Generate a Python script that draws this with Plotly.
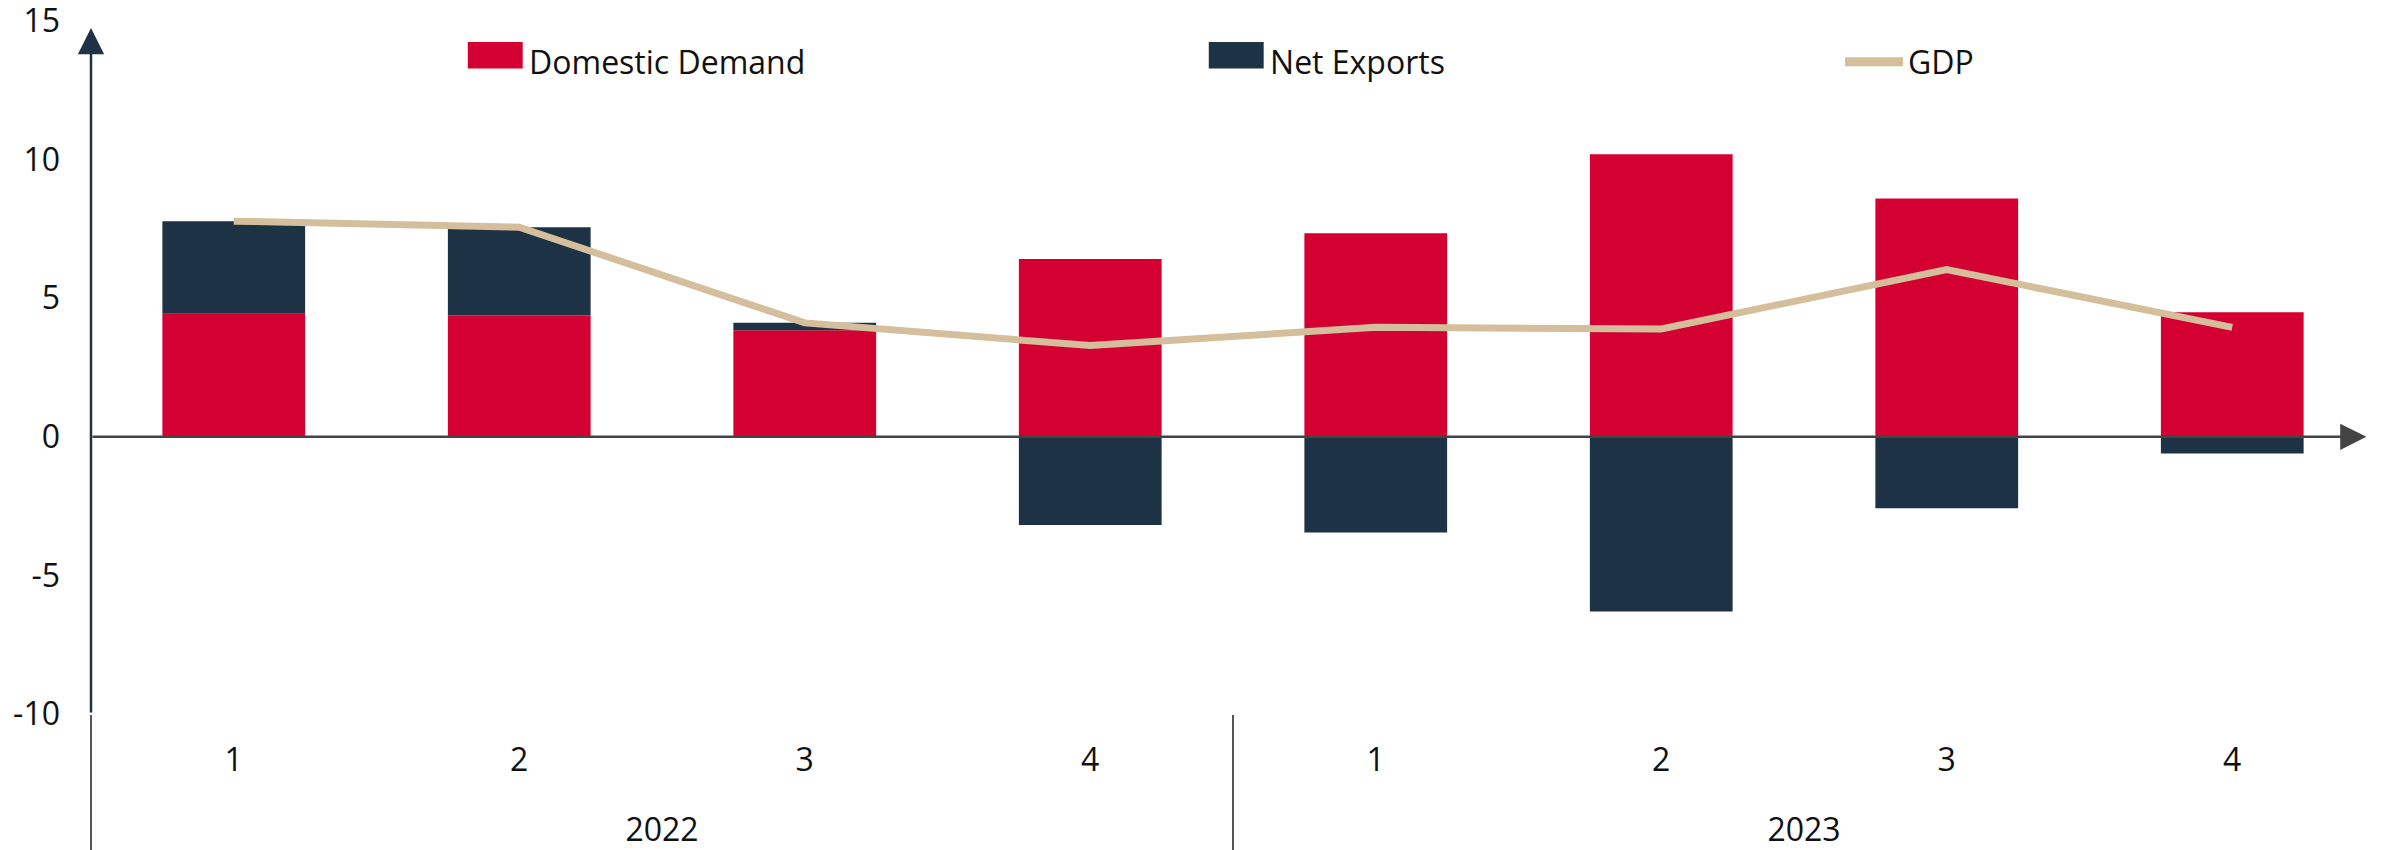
import plotly.graph_objects as go

years = ["2022", "2022", "2022", "2022", "2023", "2023", "2023", "2023"]
quarters = ["1", "2", "3", "4", "1", "2", "3", "4"]
domestic_demand = [4.44, 4.38, 3.84, 6.41, 7.34, 10.19, 8.60, 4.49]
net_exports = [3.34, 3.18, 0.27, -3.18, -3.45, -6.30, -2.58, -0.60]
gdp = [7.78, 7.56, 4.11, 3.29, 3.95, 3.89, 6.03, 3.95]
y_ticks = [-10, -5, 0, 5, 10, 15]
y_tick_text = ["-10", "-5", "0", "5", "10", "15"]

C_DD = "#D40032"
C_NX = "#1E3246"
C_GDP = "#D4BE9B"
FONT = "Open Sans"

# first-level labels get an empty second line so the year row sits lower
quarter_labels = [q + "<br><span style='font-size:54px'>\u00a0</span>" for q in quarters]
x = [years, quarter_labels]

fig = go.Figure()
fig.add_trace(go.Bar(x=x, y=domestic_demand, name="Domestic Demand",
                     marker=dict(color=C_DD, line=dict(width=0)), width=0.5,
                     showlegend=False))
fig.add_trace(go.Bar(x=x, y=net_exports, name="Net Exports",
                     marker=dict(color=C_NX, line=dict(width=0)), width=0.5,
                     showlegend=False))
fig.add_trace(go.Scatter(x=x, y=gdp, name="GDP", mode="lines",
                         line=dict(color=C_GDP, width=7),
                         showlegend=False))

def swatch_name(color, label):
    return ("<span style='color:%s;font-family:DejaVu Sans;font-size:72px'>\u25ac</span>"
            "%s" % (color, label))

HIDDEN = dict(color="rgba(0,0,0,0)", size=1, line=dict(width=0, color="rgba(0,0,0,0)"))

# legend entries
fig.add_trace(go.Scatter(x=[None], y=[None], name=swatch_name(C_DD, "Domestic Demand"),
                         mode="markers", marker=HIDDEN, legend="legend"))
fig.add_trace(go.Scatter(x=[None], y=[None], name=swatch_name(C_NX, "Net Exports"),
                         mode="markers", marker=HIDDEN, legend="legend2"))
fig.add_trace(go.Scatter(x=[None], y=[None], name="GDP", mode="lines",
                         line=dict(color=C_GDP, width=9), legend="legend3"))

# the page body adds an 8px offset; work in page pixels and subtract it
OFF = 8
W, H = 2382 - OFF, 850 - OFF
ml = 91 - OFF
mr = 7
mt = 21 - OFF
mb = H - (714 - OFF)
pw = W - ml - mr
ph = H - mt - mb

def px2paper_x(px):
    return (px - OFF - ml) / pw

def px2paper_y(py):
    return (H - mb - (py - OFF)) / ph

leg_common = dict(orientation="h", yanchor="middle", xanchor="left",
                  font=dict(family=FONT, size=32, color="#111"),
                  bgcolor="rgba(0,0,0,0)", borderwidth=0)

fig.update_layout(
    width=W, height=H,
    margin=dict(l=ml, r=mr, t=mt, b=mb, autoexpand=False),
    paper_bgcolor="white", plot_bgcolor="white",
    barmode="relative",
    showlegend=True,
    font=dict(family=FONT, size=32, color="#111"),
    legend=dict(x=px2paper_x(469 - 48), y=px2paper_y(62), **leg_common),
    legend2=dict(x=px2paper_x(1210 - 48), y=px2paper_y(62), **leg_common),
    legend3=dict(x=px2paper_x(1847 - 7), y=px2paper_y(62), itemwidth=58, **leg_common),
    xaxis=dict(type="multicategory", range=[-0.5, 7.5], showgrid=False,
               showline=False, zeroline=False, ticks="", automargin=False,
               ticklabelstandoff=24,
               tickfont=dict(family=FONT, size=32, color="#111"),
               showdividers=True, dividercolor="#555", dividerwidth=2),
    yaxis=dict(range=[-10, 15], tickmode="array", tickvals=y_ticks,
               ticktext=y_tick_text, showgrid=False, automargin=False,
               zeroline=False, showline=False, ticks="",
               ticklabelstandoff=30, ticklabeloverflow="allow",
               tickfont=dict(family=FONT, size=32, color="#111")),
)

# zero line with arrow (x-axis)
fig.add_annotation(x=7.47, y=0, ax=-0.5, ay=0, xref="x", yref="y",
                   axref="x", ayref="y", text="", showarrow=True,
                   arrowhead=2, arrowsize=2.1, arrowwidth=2.5,
                   arrowcolor="#444444", standoff=0)
# y-axis line with arrow
fig.add_annotation(x=-0.5, y=14.75, ax=-0.5, ay=-10, xref="x", yref="y",
                   axref="x", ayref="y", text="", showarrow=True,
                   arrowhead=2, arrowsize=2.1, arrowwidth=2.5,
                   arrowcolor="#1E3246", standoff=0)

fig.write_html("out.html")
